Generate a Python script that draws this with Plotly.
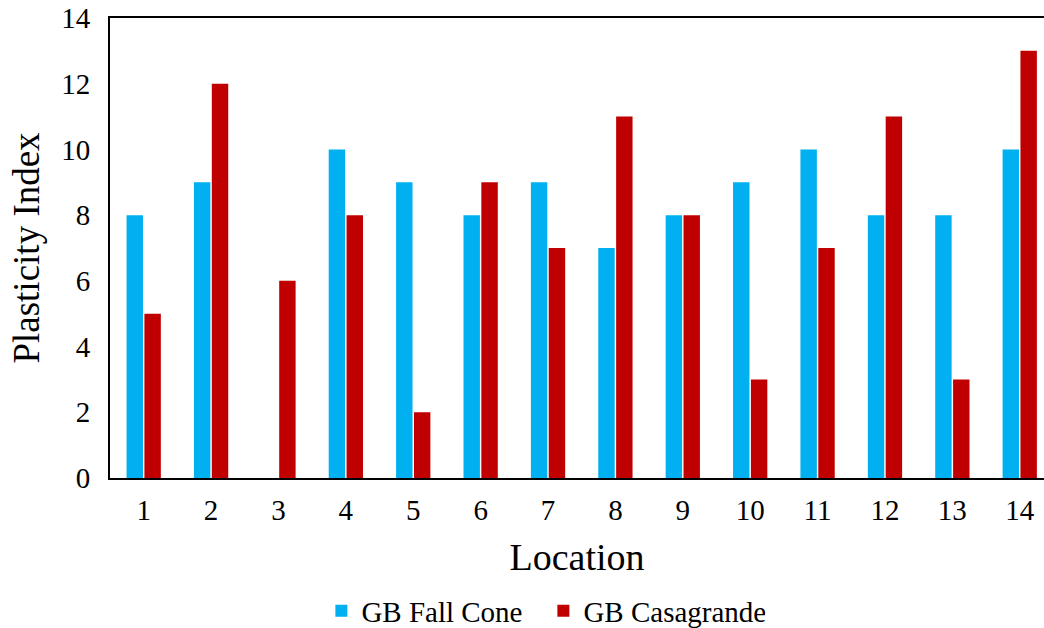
import plotly.graph_objects as go

locations = [str(i) for i in range(1, 15)]
fall_cone = [8, 9, None, 10, 9, 8, 9, 7, 8, 9, 10, 8, 8, 10]
casagrande = [5, 12, 6, 8, 2, 9, 7, 11, 8, 3, 7, 11, 3, 13]

FONT = "Liberation Serif"

fig = go.Figure()
fig.add_trace(go.Bar(x=locations, y=fall_cone, name="GB Fall Cone",
                     marker=dict(color="#00B0F0", line=dict(width=0))))
fig.add_trace(go.Bar(x=locations, y=casagrande, name="GB Casagrande",
                     marker=dict(color="#C00000", line=dict(width=0))))

fig.update_layout(
    width=1044, height=628,
    margin=dict(l=110, r=0, t=18, b=150, autoexpand=False),
    plot_bgcolor="white", paper_bgcolor="white",
    barmode="group", bargap=0.47, bargroupgap=0.08,
    font=dict(family=FONT, color="black", size=29),
    legend=dict(orientation="h", x=0.464, xanchor="center", y=-0.289, yanchor="middle",
                font=dict(family=FONT, size=29), itemwidth=30, traceorder="normal",
                entrywidth=177, entrywidthmode="pixels"),
    xaxis=dict(
        type="category", range=[-0.5, 13.36], automargin=False,
        showline=True, linecolor="black", linewidth=2, mirror=True,
        ticks="", ticklabelstandoff=5,
        title=dict(text="Location", font=dict(family=FONT, size=38), standoff=19),
        tickfont=dict(family=FONT, size=29),
    ),
    yaxis=dict(
        range=[0, 14], dtick=2, showgrid=False, zeroline=False, automargin=False,
        showline=True, linecolor="black", linewidth=2,
        ticks="", ticklabelstandoff=12,
        title=dict(text="Plasticity Index", font=dict(family=FONT, size=37), standoff=10),
        tickfont=dict(family=FONT, size=29),
    ),
)

fig.write_html("out.html", config={"displayModeBar": False},
               post_script="document.body.style.margin='0';")
